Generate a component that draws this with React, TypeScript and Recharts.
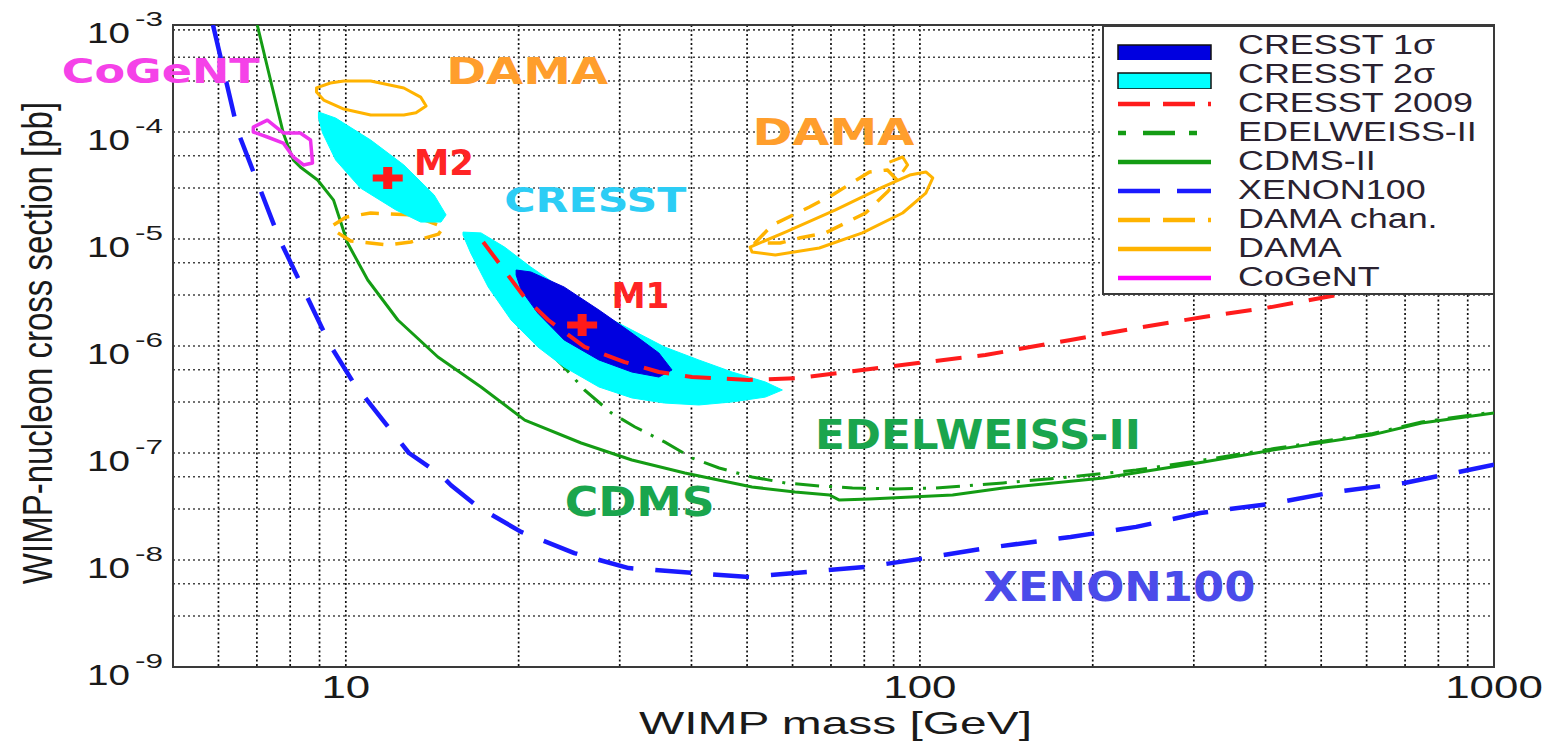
// WIMP exclusion plot — log/log, CRESST regions + limits
import {
  ScatterChart, Scatter, XAxis, YAxis, CartesianGrid,
  ReferenceArea, ReferenceDot, Legend,
} from 'recharts'

type Pt = [number, number] // [WIMP mass GeV, cross section pb]

const X_TICKS = [10, 100, 1000]
const Y_TICKS = [1e-9, 1e-8, 1e-7, 1e-6, 1e-5, 1e-4, 1e-3]
const GRID_X = [6, 7, 8, 9, 10, 20, 30, 40, 50, 60, 70, 80, 90, 100, 200, 300, 400, 500, 600, 700, 800, 900]
const MANTISSAS = [1, 2, 3, 4, 5, 6, 7, 8, 9]
const DECADES = [1e-9, 1e-8, 1e-7, 1e-6, 1e-5, 1e-4]
const GRID_Y = DECADES.flatMap(d => MANTISSAS.map(k => k * d)).filter(v => v > 1.01e-9)

const XENON100: Pt[] = [
  [5.87, 1e-3], [6.49, 1e-4], [7.66, 1e-5], [9.41, 1e-6], [10.32, 4.51e-7], [11.6, 2.03e-7],
  [12.88, 1e-7], [14.65, 6.22e-8], [15.25, 5.0e-8], [17.0, 3.13e-8], [20.2, 1.83e-8], [25.0, 1.16e-8],
  [31.1, 8.41e-9], [40.1, 7.57e-9], [50.4, 6.93e-9], [60.6, 7.57e-9], [80.4, 8.61e-9], [102, 1.04e-8],
  [130, 1.29e-8], [183, 1.64e-8], [238, 2.04e-8], [308, 2.75e-8], [414, 3.39e-8], [520, 4.27e-8],
  [698, 5.25e-8], [1000, 7.76e-8],
]
const CDMS_II: Pt[] = [
  [7.01, 1e-3], [7.3, 4.05e-4], [7.78, 9.8e-5], [8.1, 5.47e-5], [8.33, 4.71e-5], [8.93, 3.56e-5],
  [9.52, 2.31e-5], [10.07, 9.18e-6], [10.92, 4.14e-6], [12.32, 1.75e-6], [14.47, 7.89e-7],
  [17.2, 4.14e-7], [20.5, 2.03e-7], [25.7, 1.24e-7], [31.5, 8.61e-8], [38.96, 6.5e-8], [51.0, 4.81e-8],
  [60.6, 4.33e-8], [69.6, 4.05e-8], [72.4, 3.63e-8], [81.7, 3.72e-8], [114, 4.05e-8], [139.6, 4.71e-8],
  [208.7, 5.83e-8], [312, 8.24e-8], [414, 1.07e-7], [611, 1.47e-7], [748, 1.91e-7], [1000, 2.37e-7],
]
const EDELWEISS_II: Pt[] = [
  [20.2, 1.75e-6], [22.2, 9.57e-7], [24.0, 6.37e-7], [26.05, 3.88e-7], [29.0, 2.37e-7], [31.9, 1.75e-7],
  [35.9, 1.27e-7], [40.1, 8.97e-8], [44.7, 7.24e-8], [51.0, 5.97e-8], [58.3, 5.25e-8], [66.8, 4.92e-8],
  [76.3, 4.71e-8], [90.7, 4.61e-8], [106.6, 4.71e-8], [139.6, 5.25e-8], [183, 5.97e-8], [238, 6.93e-8],
  [312, 8.61e-8], [414, 1.1e-7], [611, 1.51e-7], [748, 1.95e-7], [1000, 2.42e-7],
]
const CRESST_2009: Pt[] = [
  [17.35, 9.38e-6], [18.87, 5.13e-6], [20.46, 2.87e-6], [22.52, 1.75e-6], [26.05, 9.8e-7], [30.6, 7.08e-7],
  [35.1, 5.71e-7], [40.1, 5.13e-7], [50.4, 4.81e-7], [61.6, 5.02e-7], [87.1, 6.37e-7], [130, 8.24e-7],
  [183, 1.14e-6], [238, 1.47e-6], [312, 1.87e-6], [409, 2.31e-6], [533, 3.0e-6],
]
// CRESST 2σ / 1σ contours (closed)
const CRESST_2S_M1: Pt[] = [
  [16.0, 1.16e-5], [17.2, 1.14e-5], [18.9, 8.41e-6], [21.0, 5.47e-6], [24.0, 3.33e-6], [27.6, 2.03e-6],
  [31.5, 1.41e-6], [35.9, 9.8e-7], [41.2, 7.4e-7], [47.1, 5.71e-7], [53.8, 4.61e-7], [57.6, 3.88e-7],
  [53.8, 3.33e-7], [47.1, 3.0e-7], [41.2, 2.81e-7], [35.9, 2.93e-7], [31.5, 3.27e-7], [27.6, 4.14e-7],
  [24.0, 6.37e-7], [21.6, 9.8e-7], [19.4, 1.75e-6], [17.7, 3.56e-6], [16.5, 7.4e-6], [16.0, 1.09e-5],
]
const CRESST_1S_M1: Pt[] = [
  [19.8, 5.13e-6], [21.0, 4.92e-6], [24.0, 3.56e-6], [27.6, 2.17e-6], [31.5, 1.32e-6], [35.1, 8.6e-7],
  [37.0, 5.97e-7], [35.1, 5.13e-7], [31.5, 5.71e-7], [27.6, 7.4e-7], [24.0, 1.14e-6], [21.6, 2.03e-6],
  [20.2, 3.33e-6], [19.8, 4.61e-6],
]
const CRESST_2S_M2: Pt[] = [
  [8.96, 1.54e-4], [9.6, 1.35e-4], [11.05, 8.41e-5], [12.62, 4.92e-5], [14.25, 2.58e-5], [14.95, 1.68e-5],
  [14.65, 1.44e-5], [13.5, 1.44e-5], [12.22, 1.87e-5], [10.6, 3.0e-5], [9.6, 5.47e-5], [9.11, 9.8e-5],
  [8.96, 1.35e-4],
]
const DAMA_LOW: Pt[] = [
  [8.89, 2.58e-4], [9.4, 2.87e-4], [9.92, 3.0e-4], [11.05, 3.0e-4], [12.62, 2.58e-4], [13.5, 2.12e-4],
  [13.8, 1.75e-4], [13.25, 1.51e-4], [12.62, 1.44e-4], [11.05, 1.44e-4], [9.92, 1.64e-4], [9.15, 1.99e-4],
  [8.89, 2.37e-4],
]
const DAMA_HIGH: Pt[] = [
  [50.6, 8.41e-6], [58.3, 1.16e-5], [71.3, 1.87e-5], [86.1, 3.06e-5], [96.0, 3.96e-5], [102.4, 4.23e-5],
  [105.3, 3.72e-5], [102.4, 2.69e-5], [93.3, 1.75e-5], [79.4, 1.14e-5], [66.8, 8.24e-6], [56.0, 7.09e-6],
  [51.0, 7.56e-6],
]
const DAMA_HOOK: Pt[] = [[88.5, 5.24e-5], [93.3, 5.84e-5], [95.2, 4.92e-5], [93.3, 4.23e-5]]
const DAMA_CHAN_LOW: Pt[] = [
  [9.52, 1.35e-5], [10.0, 1.6e-5], [11.05, 1.75e-5], [12.98, 1.68e-5], [14.8, 1.29e-5], [14.5, 1.11e-5],
  [12.98, 9.37e-6], [11.83, 8.79e-6], [10.2, 9.58e-6], [9.52, 1.21e-5],
]
const DAMA_CHAN_HIGH: Pt[] = [
  [51.6, 9.18e-6], [55.3, 1.35e-5], [64.2, 1.99e-5], [70.4, 2.58e-5], [81.7, 4.23e-5], [87.8, 4.42e-5],
  [91.5, 3.5e-5], [88.0, 2.8e-5], [80.4, 1.75e-5], [68.5, 1.14e-5], [61.6, 1.02e-5], [57.1, 9.18e-6],
]
const COGENT: Pt[] = [
  [6.9, 1.11e-4], [7.3, 1.29e-4], [7.78, 9.8e-5], [8.33, 9.8e-5], [8.68, 8.41e-5], [8.75, 5.13e-5],
  [8.44, 4.92e-5], [8.1, 5.84e-5], [7.78, 7.89e-5], [7.3, 8.98e-5], [6.9, 1.0e-4],
]
const BEST_FITS: Pt[] = [[11.83, 3.72e-5], [25.8, 1.57e-6]] // M2, M1

const LABELS = [
  { key: 'cogent', text: 'CoGeNT', m: 4.76, s: 2.84e-4 },
  { key: 'dama1', text: 'DAMA', m: 20.7, s: 2.81e-4 },
  { key: 'dama2', text: 'DAMA', m: 70.7, s: 7.56e-5 },
  { key: 'm2', text: 'M2', m: 14.82, s: 3.96e-5 },
  { key: 'cresst', text: 'CRESST', m: 27.2, s: 1.79e-5 },
  { key: 'm1', text: 'M1', m: 32.6, s: 2.26e-6 },
  { key: 'edel', text: 'EDELWEISS-II', m: 126.2, s: 1.09e-7 },
  { key: 'cdms', text: 'CDMS', m: 32.5, s: 2.58e-8 },
  { key: 'xenon', text: 'XENON100', m: 222.6, s: 4.14e-9 },
]

const LABEL_STYLE: Record<string, { color: string; size: number; len: number }> = {
  cogent: { color: '#f542e8', size: 34, len: 198 },
  dama1:  { color: '#ff9e2c', size: 37, len: 162 },
  dama2:  { color: '#ff9e2c', size: 37, len: 162 },
  m2:     { color: '#ff2424', size: 36, len: 60 },
  cresst: { color: '#2ccdf5', size: 34, len: 182 },
  m1:     { color: '#ff2424', size: 36, len: 58 },
  edel:   { color: '#1aa54d', size: 40, len: 326 },
  cdms:   { color: '#1aa54d', size: 40, len: 150 },
  xenon:  { color: '#4b4bea', size: 40, len: 272 },
}

const RED = '#ff1c1c'
const GREEN = '#149c14'
const BLUE = '#1a1aff'
const GOLD = '#ffb300'
const MAGENTA = '#ee33ee'
const CYAN = '#00ffff'
const NAVY = '#0000e0'
const FONT = '"Liberation Sans", Arial, Helvetica, sans-serif'

const LEGEND_ITEMS = [
  { name: 'CRESST 1σ', box: NAVY },
  { name: 'CRESST 2σ', box: CYAN },
  { name: 'CRESST 2009', color: RED, dash: '32 13' },
  { name: 'EDELWEISS-II', color: GREEN, dash: '8 17 32 14' },
  { name: 'CDMS-II', color: GREEN },
  { name: 'XENON100', color: BLUE, dash: '42 17' },
  { name: 'DAMA chan.', color: GOLD, dash: '32 13' },
  { name: 'DAMA', color: GOLD },
  { name: 'CoGeNT', color: '#ff00ff' },
]

const toPts = (a: Pt[]) => a.map(([m, s]) => ({ m, s }))
const noDot = () => <g />

function curve(key: string, data: Pt[], stroke: string, width: number, dash?: string, closed = false, fill = 'none') {
  return (
    <Scatter key={key} data={toPts(data)} shape={noDot} isAnimationActive={false} legendType="none"
      lineType="joint" lineJointType={closed ? 'linearClosed' : 'linear'}
      line={{ stroke, strokeWidth: width, strokeDasharray: dash, fill, strokeLinejoin: 'round' }} />
  )
}

function YTick({ x, y, payload }: any) {
  const exp = Math.round(Math.log10(payload.value))
  return (
    <g fill="#1a1a1a" fontFamily={FONT}>
      <text x={x - 33} y={y + 18} textAnchor="end" fontSize={30} textLength={43} lengthAdjust="spacingAndGlyphs">10</text>
      <text x={x} y={y + 1} textAnchor="end" fontSize={21} textLength={28} lengthAdjust="spacingAndGlyphs">{exp}</text>
    </g>
  )
}

function XTick({ x, y, payload }: any) {
  const t = String(payload.value)
  return (
    <text x={x} y={y + 31} textAnchor="middle" fill="#1a1a1a" fontFamily={FONT} fontSize={31}
      textLength={t.length * 24.4} lengthAdjust="spacingAndGlyphs">{t}</text>
  )
}

function plus(p: any) {
  const { cx, cy } = p
  const w = 15, h = 11, t = 4.5, a = 3.5
  const d = `M${cx - t},${cy - h}H${cx + t}V${cy - a}H${cx + w}V${cy + a}H${cx + t}V${cy + h}H${cx - t}V${cy + a}H${cx - w}V${cy - a}H${cx - t}Z`
  return <path d={d} fill="#ff1a1a" />
}

function LegendBox() {
  return (
    <div style={{
      width: 393, height: 270, boxSizing: 'border-box', border: '2px solid #3a3a3a',
      background: '#fff', position: 'relative', fontFamily: FONT,
    }}>
      {LEGEND_ITEMS.map((it, i) => {
        const top = 4 + i * 29
        return (
          <div key={it.name} style={{ position: 'absolute', left: 0, top, height: 29, width: '100%' }}>
            <svg width={96} height={29} style={{ position: 'absolute', left: 13, top: 0 }}>
              {it.box
                ? <rect x={1} y={i === 0 ? 14 : 13} width={93} height={16} fill={it.box} stroke="#111" strokeWidth={1.5} />
                : <line x1={1} x2={94} y1={15} y2={15} stroke={it.color} strokeWidth={4.5}
                    strokeDasharray={it.dash} strokeLinecap="butt" />}
            </svg>
            <span style={{
              position: 'absolute', left: 134, top: 0, lineHeight: '29px', fontSize: 27,
              color: '#2a2230', whiteSpace: 'nowrap', transform: 'scaleX(1.33)', transformOrigin: 'left center',
            }}>{it.name}</span>
          </div>
        )
      })}
    </div>
  )
}

export default function App() {
  return (
    <div style={{ position: 'absolute', left: 0, top: 0, width: 1557, height: 741, background: '#fff' }}>
      <ScatterChart width={1557} height={741} margin={{ top: 25, right: 63, bottom: 0, left: 0 }}>
        <CartesianGrid horizontal={false} verticalValues={GRID_X} stroke="#111" strokeWidth={1.7} strokeDasharray="2 2.5" />
        <CartesianGrid vertical={false} horizontalValues={GRID_Y} stroke="#444" strokeWidth={1.6} strokeDasharray="2 3" />
        <XAxis dataKey="m" type="number" scale="log" domain={[5, 1000]} allowDataOverflow ticks={X_TICKS}
          height={74} tickSize={0} tickMargin={0} axisLine={false} tick={<XTick />}
          label={{
            content: ({ viewBox }: any) => (
              <text x={viewBox.x + viewBox.width / 2 + 2} y={viewBox.y + 67} textAnchor="middle" fontFamily={FONT}
                fontSize={32} fill="#1a1a1a" textLength={393} lengthAdjust="spacingAndGlyphs">WIMP mass [GeV]</text>
            ),
          }} />
        <YAxis dataKey="s" type="number" scale="log" domain={[1e-9, 1e-3]} allowDataOverflow ticks={Y_TICKS}
          width={173} tickSize={0} tickMargin={10} axisLine={false} tick={<YTick />}
          label={{
            content: ({ viewBox }: any) => (
              <text transform={`translate(${viewBox.x + 52},${viewBox.y + viewBox.height / 2 - 3}) scale(1.3,1) rotate(-90)`}
                textAnchor="middle" fontFamily={FONT} fontSize={33} fill="#1a1a1a">WIMP-nucleon cross section [pb]</text>
            ),
          }} />

        {curve('edel', EDELWEISS_II, GREEN, 3, '24 10 3 10')}
        {curve('cdms', CDMS_II, GREEN, 3)}
        {curve('xenon', XENON100, BLUE, 4.5, '36 22')}
        {curve('dama-low', DAMA_LOW, GOLD, 3, undefined, true)}
        {curve('dama-high', DAMA_HIGH, GOLD, 3, undefined, true)}
        {curve('dama-hook', DAMA_HOOK, GOLD, 3)}
        {curve('dama-chan-low', DAMA_CHAN_LOW, GOLD, 3.5, '18 12', true)}
        {curve('dama-chan-high', DAMA_CHAN_HIGH, GOLD, 3.5, '18 12', true)}
        {curve('cogent', COGENT, MAGENTA, 3.5, undefined, true)}
        {curve('c2-m2', CRESST_2S_M2, CYAN, 1, undefined, true, CYAN)}
        {curve('c2-m1', CRESST_2S_M1, CYAN, 1, undefined, true, CYAN)}
        {curve('c1-m1', CRESST_1S_M1, NAVY, 1, undefined, true, NAVY)}
        {curve('cresst09', CRESST_2009, RED, 4, '26 16')}

        <Scatter data={toPts(BEST_FITS)} shape={plus} isAnimationActive={false} legendType="none" />

        <ReferenceArea x1={5} x2={1000} y1={1e-9} y2={1e-3} fill="none" stroke="#3a3a3a" strokeWidth={2} />

        {LABELS.map(l => {
          const st = LABEL_STYLE[l.key]
          return (
            <ReferenceDot key={l.key} x={l.m} y={l.s} r={0} ifOverflow="visible"
              shape={(p: any) => (
                <text x={p.cx} y={p.cy} textAnchor="middle" fill={st.color} fontSize={st.size}
                  fontWeight="bold" fontFamily='"DejaVu Sans", Verdana, sans-serif'
                  textLength={st.len} lengthAdjust="spacingAndGlyphs">{l.text}</text>
              )} />
          )
        })}

        <Legend layout="vertical" align="center" verticalAlign="middle" content={() => <LegendBox />}
          wrapperStyle={{ position: 'absolute', left: 1102, top: 25, width: 393, height: 270 }} />
      </ScatterChart>
    </div>
  )
}
